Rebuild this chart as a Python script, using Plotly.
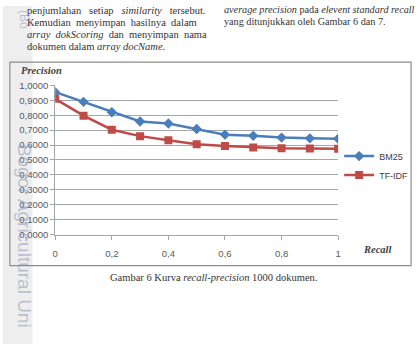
import plotly.graph_objects as go

W, H = 420, 349

recall = [0, 0.1, 0.2, 0.3, 0.4, 0.5, 0.6, 0.7, 0.8, 0.9, 1.0]
bm25 = [0.955, 0.890, 0.820, 0.758, 0.745, 0.708, 0.670, 0.662, 0.650, 0.645, 0.642]
tfidf = [0.910, 0.797, 0.703, 0.660, 0.632, 0.606, 0.594, 0.584, 0.578, 0.577, 0.575]
x_ticks = [0, 0.2, 0.4, 0.6, 0.8, 1.0]
y_ticks = [0, 0.1, 0.2, 0.3, 0.4, 0.5, 0.6, 0.7, 0.8, 0.9, 1.0]

S = "&nbsp;"
left_lines = [
    "penjumlahan" + S * 3 + "setiap" + S * 3 + "<i>similarity</i>" + S * 3 + "tersebut.",
    "Kemudian" + S * 2 + "menyimpan" + S * 2 + "hasilnya" + S * 2 + "dalam",
    "<i>array" + S * 2 + "dokScoring</i>" + S * 2 + "dan" + S * 2 + "menyimpan" + S * 2 + "nama",
    "dokumen dalam <i>array docName</i>.",
]
right_lines = [
    "<i>average precision</i> pada <i>elevent standard recall</i>",
    "yang ditunjukkan oleh Gambar 6 dan 7.",
]
caption = "Gambar 6 Kurva <i>recall-precision</i> 1000 dokumen."

def px(x):
    return x / W

def py(y):
    return 1 - y / H

fig = go.Figure()
fig.add_trace(go.Scatter(
    x=recall, y=bm25, name="BM25", mode="lines+markers",
    line=dict(color="#4a7ebb", width=2.5),
    marker=dict(symbol="diamond", size=8, color="#4a7ebb"),
))
fig.add_trace(go.Scatter(
    x=recall, y=tfidf, name="TF-IDF", mode="lines+markers",
    line=dict(color="#be4b48", width=2.5),
    marker=dict(symbol="square", size=8, color="#be4b48"),
))

tick_font = dict(family="Liberation Sans, Arial, sans-serif", size=9.5, color="#595959")

fig.update_layout(
    width=W, height=H,
    margin=dict(l=0, r=0, t=0, b=0),
    paper_bgcolor="white",
    plot_bgcolor="white",
    separators=", ",
    showlegend=True,
    legend=dict(
        x=px(341), y=py(140), xanchor="left", yanchor="top",
        bgcolor="rgba(0,0,0,0)",
        font=dict(family="Liberation Sans, Arial, sans-serif", size=9, color="#404040"),
        itemwidth=30,
        tracegroupgap=0,
    ),
    xaxis=dict(
        domain=[px(53), px(340)], range=[0, 1],
        tickvals=x_ticks, tickformat="~g",
        showgrid=False, zeroline=False,
        showline=True, linecolor="#a6a6a6", linewidth=1,
        ticks="outside", ticklen=4, tickcolor="#a6a6a6",
        tickfont=tick_font, ticklabelstandoff=6,
        fixedrange=True,
    ),
    yaxis=dict(
        domain=[py(236), py(82)], range=[0, 1],
        tickvals=y_ticks, tickformat=".4f",
        showgrid=True, gridcolor="#a6a6a6", gridwidth=1,
        zeroline=False,
        showline=True, linecolor="#a6a6a6", linewidth=1,
        ticks="outside", ticklen=4, tickcolor="#a6a6a6",
        tickfont=tick_font,
        fixedrange=True,
    ),
)

# page decorations
fig.add_shape(type="rect", xref="paper", yref="paper",
              x0=0, x1=px(30), y0=0, y1=1,
              fillcolor="#eeeeee", line=dict(width=0), layer="below")
fig.add_shape(type="rect", xref="paper", yref="paper",
              x0=px(7), x1=px(414), y0=py(268), y1=py(58),
              fillcolor="rgba(0,0,0,0)", line=dict(color="#8c8c8c", width=1.2), layer="below")

serif = "Liberation Serif, Times New Roman, serif"
ann = []
left_y = [5, 17, 29, 42]
for t, yy in zip(left_lines, left_y):
    ann.append(dict(text=t, x=px(22), y=py(yy), xanchor="left", yanchor="middle",
                    font=dict(family=serif, size=10.5, color="#333333")))
right_y = [4, 16]
for t, yy in zip(right_lines, right_y):
    ann.append(dict(text=t, x=px(222), y=py(yy), xanchor="left", yanchor="middle",
                    font=dict(family=serif, size=10.2, color="#333333")))
ann.append(dict(text=caption, x=px(214), y=py(280), xanchor="center", yanchor="middle",
                font=dict(family=serif, size=10.5, color="#333333")))
ann.append(dict(text="<b><i>Precision</i></b>", x=px(16), y=py(67), xanchor="left", yanchor="middle",
                font=dict(family=serif, size=10.5, color="#404040")))
ann.append(dict(text="<b><i>Recall</i></b>", x=px(363), y=py(251), xanchor="left", yanchor="middle",
                font=dict(family=serif, size=10.5, color="#404040")))
# vertical watermark
ann.append(dict(text="Bogor Agricultural Uni", x=px(22), y=py(140), xanchor="center", yanchor="top",
                textangle=90, font=dict(family="Liberation Sans, Arial, sans-serif", size=19, color="rgba(140,150,180,0.55)")))
ann.append(dict(text="(Bo", x=px(22), y=py(26), xanchor="center", yanchor="bottom",
                textangle=90, font=dict(family="Liberation Sans, Arial, sans-serif", size=12, color="rgba(140,150,180,0.55)")))
for a in ann:
    a.update(xref="paper", yref="paper", showarrow=False)
fig.update_layout(annotations=ann)

fig.write_html("out.html")
